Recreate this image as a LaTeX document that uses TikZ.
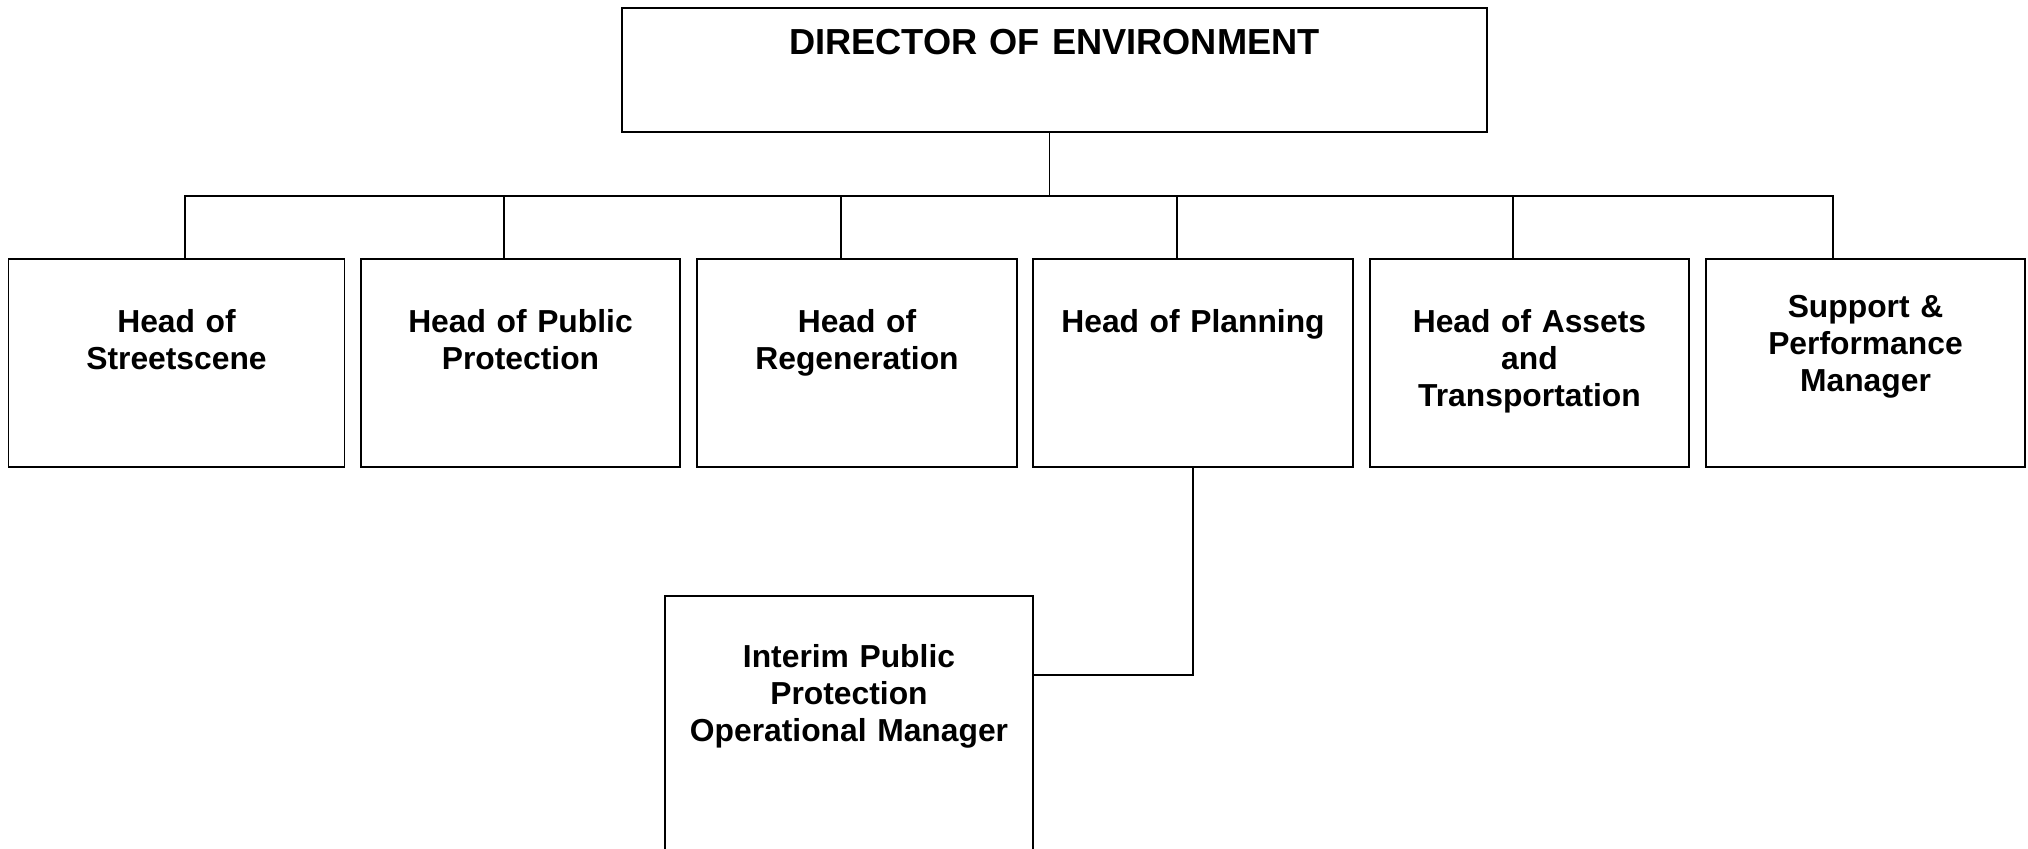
\documentclass[tikz,border=0pt]{standalone}
\usepackage{fontspec}
\setmainfont{Liberation Sans}
\usepackage{tikz}
\usetikzlibrary{positioning}

\begin{document}
\begin{tikzpicture}[
  post/.style={draw, line width=0.55pt, inner sep=0pt, align=center,
               text width=#1, minimum width=#1,
               font=\bfseries\fontsize{9.05}{10.45}\selectfont,
               text height=0.74cm, text depth=1.34cm},
  link/.style={line width=0.45pt},
]
  \useasboundingbox (0,0) rectangle (20.28,-8.49);

  \node[post=8.65cm, font=\bfseries\fontsize{10.3}{12}\selectfont,
        text height=0.47cm, text depth=0.77cm] (dir) at (10.545,-0.70) {
    DIRECTOR OF ENVIRONMENT
  };

  \node[post=3.36cm] (str) at (1.765,-3.63) {Head of\\Streetscene};
  \node[post=3.19cm] (pub) at (5.205,-3.63) {Head of Public\\Protection};
  \node[post=3.20cm] (reg) at (8.57,-3.63) {Head of\\Regeneration};
  \node[post=3.20cm] (plan) at (11.93,-3.63) {Head of Planning};
  \node[post=3.19cm] (assets) at (15.295,-3.63) {Head of Assets\\and\\Transportation};
  \node[post=3.19cm, text height=0.59cm, text depth=1.49cm] (supp) at (18.655,-3.63) {
    Support \&\\Performance\\Manager
  };

  \node[post=3.68cm, text height=0.72cm, text depth=2.32cm] (sub) at (8.49,-7.48) {
    Interim Public\\Protection\\Operational Manager
  };

  \draw[link] ([xshift=-0.05cm]dir.south) -- ++(0,-0.63) coordinate (bar);
  \foreach \n/\dx in {str/0.085, pub/-0.165, reg/-0.16, plan/-0.16, assets/-0.165, supp/-0.325}
    \draw[link] ([xshift=\dx cm]\n.north) |- (bar);

  \draw[link] (plan.south) |- ([yshift=-0.8cm]sub.north east);
\end{tikzpicture}
\end{document}
